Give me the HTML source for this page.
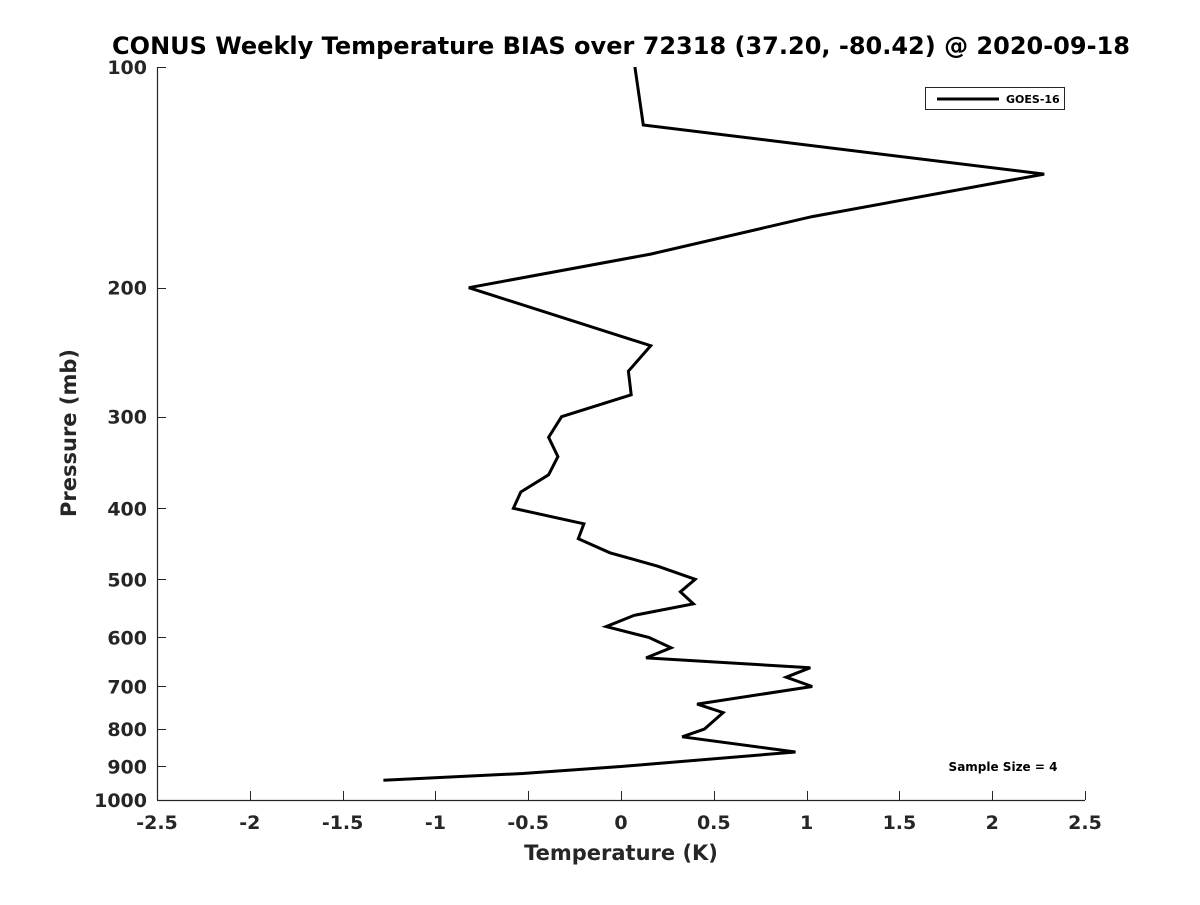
<!DOCTYPE html>
<html><head><meta charset="utf-8"><style>
html,body{margin:0;padding:0;background:#fff;}
svg text{font-family:"DejaVu Sans","Liberation Sans",sans-serif;font-weight:bold;}
</style></head><body>
<svg id="chart" width="1200" height="900" xmlns="http://www.w3.org/2000/svg">
<rect width="1200" height="900" fill="#fff"/>
<text x="621" y="54" text-anchor="middle" font-size="24" fill="#000">CONUS Weekly Temperature BIAS over 72318 (37.20, -80.42) @ 2020-09-18</text>
<g id="axes"></g>
<g id="series"></g>
<text x="621" y="860" text-anchor="middle" font-size="21" fill="#262626">Temperature (K)</text>
<text transform="translate(76,433) rotate(-90)" text-anchor="middle" font-size="21" fill="#262626">Pressure (mb)</text>
<g>
<rect x="925.5" y="87.5" width="139" height="22" fill="#fff" stroke="#262626" stroke-width="1"/>
<line x1="937" y1="99" x2="999" y2="99" stroke="#000" stroke-width="3"/>
<text x="1006" y="103" font-size="11" fill="#000">GOES-16</text>
</g>
<text x="1003" y="771" text-anchor="middle" font-size="12" fill="#000">Sample Size = 4</text>
</svg>
<script>
const temps = [0.075,0.12,2.28,1.03,0.16,-0.82,0.16,0.04,0.055,-0.32,-0.39,-0.34,-0.39,-0.54,-0.58,-0.20,-0.23,-0.06,0.20,0.40,0.32,0.39,0.07,-0.08,0.15,0.27,0.135,1.02,0.89,1.03,0.41,0.55,0.45,0.33,0.94,0.0,-0.53,-1.28];
const pressures = [100,120,140,160,180,200,240,260,280,300,320,340,360,380,400,420,440,460,480,500,520,540,560,580,600,620,640,660,680,700,740,760,800,820,860,900,920,940];
const xTicks = [-2.5,-2,-1.5,-1,-0.5,0,0.5,1,1.5,2,2.5];
const xTickLabels = ["-2.5","-2","-1.5","-1","-0.5","0","0.5","1","1.5","2","2.5"];
const yTicks = [100,200,300,400,500,600,700,800,900,1000];
const NS="http://www.w3.org/2000/svg";
const L=157,R=1085,T=67,B=800;
function xs(v){return L+(v+2.5)/5*(R-L);}
function ys(p){return T+Math.log10(p/100)*(B-T);}
const axes=document.getElementById('axes');
function mk(tag,attrs,parent){const e=document.createElementNS(NS,tag);for(const k in attrs)e.setAttribute(k,attrs[k]);parent.appendChild(e);return e;}
const xa=mk('line',{x1:L,y1:B+0.5,x2:R,y2:B+0.5,stroke:'#262626','stroke-width':1.2},axes);


const ya=mk('line',{x1:L+0.5,y1:T,x2:L+0.5,y2:B,stroke:'#262626','stroke-width':1.2},axes);


xTicks.forEach((v,i)=>{
  const x=Math.round(xs(v))+0.5;
  const t=mk('line',{x1:x,y1:B,x2:x,y2:B-9,stroke:'#262626','stroke-width':1},axes);
  
  
  const tx=mk('text',{x:xs(v),y:B+29,'text-anchor':'middle','font-size':19,fill:'#262626'},axes);
  tx.textContent=xTickLabels[i];
  
  
});
yTicks.forEach(p=>{
  const y=Math.round(ys(p))+0.5;
  const t=mk('line',{x1:L,y1:y,x2:L+9,y2:y,stroke:'#262626','stroke-width':1},axes);
  
  
  const tx=mk('text',{x:L-10,y:ys(p)+7,'text-anchor':'end','font-size':19,fill:'#262626'},axes);
  tx.textContent=String(p);
  
  
});
const pts=temps.map((t,i)=>xs(t).toFixed(1)+','+ys(pressures[i]).toFixed(1)).join(' ');
const line=mk('polyline',{points:pts,fill:'none',stroke:'#000','stroke-width':3,'stroke-linejoin':'miter'},document.getElementById('series'));


</script>
</body></html>
